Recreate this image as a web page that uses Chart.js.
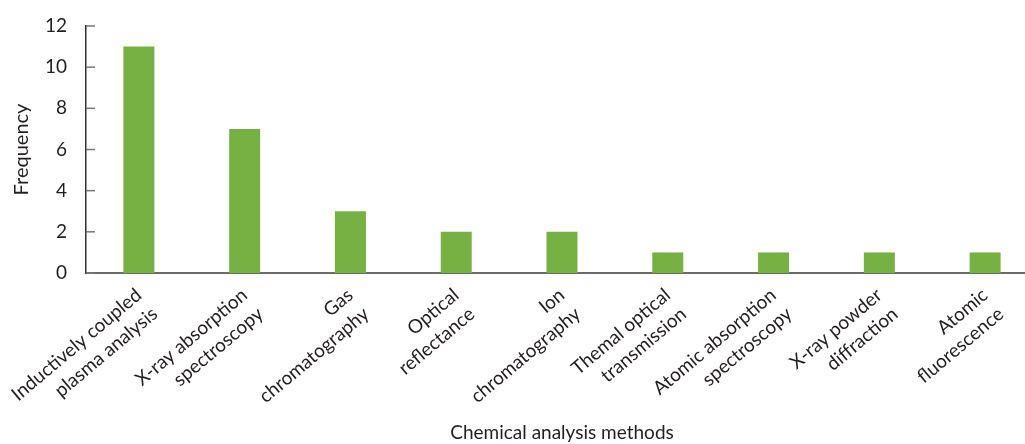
<!DOCTYPE html>
<html>
<head>
<meta charset="utf-8">
<script src="https://cdn.jsdelivr.net/npm/chart.js@4/dist/chart.umd.min.js"></script>
<style>
  html, body { margin: 0; padding: 0; background: #fff; overflow: hidden; }
  #wrap { width: 1040px; height: 444px; position: relative; }
</style>
</head>
<body>
<div id="wrap"><canvas id="methodChart"></canvas></div>
<script>
// data
const methods = [
    ['Inductively coupled', 'plasma analysis'],
    ['X-ray absorption', 'spectroscopy'],
    ['Gas', 'chromatography'],
    ['Optical', 'reflectance'],
    ['Ion', 'chromatography'],
    ['Themal optical', 'transmission'],
    ['Atomic absorption', 'spectroscopy'],
    ['X-ray powder', 'diffraction'],
    ['Atomic', 'fluorescence']
];
const frequency = [11, 7, 3, 2, 2, 1, 1, 1, 1];
const yTicks = [0, 2, 4, 6, 8, 10, 12];

Chart.defaults.font.family = 'Lato, "Liberation Sans", sans-serif';
Chart.defaults.color = '#231f20';

// small inner tick marks on the y axis
const innerTicks = {
    id: 'innerTicks',
    afterDatasetsDraw(chart) {
        const y = chart.scales.y;
        const ctx = chart.ctx;
        ctx.save();
        ctx.strokeStyle = '#777';
        ctx.lineWidth = 1.5;
        yTicks.forEach(v => {
            const py = y.getPixelForValue(v);
            ctx.beginPath();
            ctx.moveTo(chart.chartArea.left, py);
            ctx.lineTo(chart.chartArea.left + 9, py);
            ctx.stroke();
        });
        ctx.restore();
    }
};

const ctx = document.getElementById('methodChart').getContext('2d');
window.myChart = new Chart(ctx, {
    type: 'bar',
    data: {
        labels: methods,
        datasets: [{
            label: 'Frequency',
            data: frequency,
            backgroundColor: '#77b144',
            categoryPercentage: 1,
            barPercentage: 0.293
        }]
    },
    options: {
        responsive: true, maintainAspectRatio: false,
        animation: false,
        layout: { padding: { top: 26, right: 2, left: 0, bottom: 0 } },
        plugins: { legend: { display: false }, tooltip: { enabled: false } },
        scales: {
            x: {
                grid: { display: false, drawTicks: false },
                border: { display: true, color: '#6b6b6b', width: 2 },
                ticks: {
                    autoSkip: false, maxRotation: 40, minRotation: 40,
                    padding: 10,
                    font: { size: 19, lineHeight: 1.3 }
                },
                title: {
                    display: true, text: 'Chemical analysis methods',
                    font: { size: 19 }, padding: { top: 0, bottom: 0 }
                },
                afterFit(scale) {
                    scale.height = 171;
                    scale.paddingLeft = 0;
                    scale.paddingRight = 0;
                }
            },
            y: {
                min: 0, max: 12,
                grid: { display: false, drawTicks: false },
                border: { display: true, color: '#333', width: 1.5 },
                ticks: {
                    stepSize: 2, padding: 19,
                    font: { size: 19 }
                },
                title: {
                    display: true, text: 'Frequency',
                    font: { size: 20 }, padding: { top: 10, bottom: 0 }
                },
                afterFit(scale) {
                    scale.width = 86;
                    scale.paddingTop = 0;
                    scale.paddingBottom = 0;
                }
            }
        }
    },
    plugins: [innerTicks]
});
</script>
</body>
</html>
